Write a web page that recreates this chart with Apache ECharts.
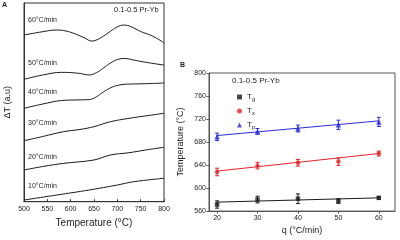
<!DOCTYPE html>
<html>
<head>
<meta charset="utf-8">
<script src="https://cdn.jsdelivr.net/npm/echarts@6/dist/echarts.min.js"></script>
<style>html,body{margin:0;padding:0;background:#fff;}#c{width:400px;height:240px;}</style>
</head>
<body>
<div id="c"></div>
<script>
// ---- Panel A: DSC curves (temperature °C, ΔT arbitrary units) ----
const rates = ['10°C/min', '20°C/min', '30°C/min', '40°C/min', '50°C/min', '60°C/min'];
const dsc10 = [[500,1.7],[570,6.7],[640,11.8],[700,16.8],[735,20.1],[800,23.6]];
const dsc20 = [[500,31.9],[540,35.4],[585,38.6],[650,42.0],[685,47.0],[725,49.3],[760,52.0],[800,54.8]];
const dsc30 = [[500,61.4],[540,65.6],[585,70.5],[620,72.7],[650,75.5],[685,80.5],[725,83.9],[760,86.3],[800,89.0]];
const dsc40 = [[500,94.0],[540,98.3],[580,101.8],[620,102.5],[640,102.8],[655,105.5],[670,110.5],[685,114.5],[700,117.0],[720,118.3],[745,118.6],[775,119.0],[800,119.5]];
const dsc50 = [[500,123.2],[540,127.5],[580,130.2],[615,129.4],[640,127.6],[655,129.8],[670,134.5],[685,139.5],[700,143.0],[715,144.2],[735,142.6],[760,140.4],[800,137.5]];
const dsc60 = [[500,167.8],[540,171.1],[570,172.8],[590,171.8],[610,168.8],[630,164.8],[645,161.7],[660,163.8],[680,169.8],[700,176.0],[715,177.8],[730,176.0],[750,171.3],[775,166.8],[800,160.0]];
const dscCurves = [dsc10, dsc20, dsc30, dsc40, dsc50, dsc60];
const sampleName = '0.1-0.5 Pr-Yb';

// ---- Panel B: characteristic temperatures vs heating rate ----
const qRates = [20, 30, 40, 50, 60];
const tg = [571.5, 580, 581.5, 577.5, 583];
const tgErr = [6.4, 5.8, 8.4, 4, 2.3];
const tx = [628, 639, 644, 646, 660];
const txErr = [6.6, 5.8, 5.8, 6.6, 4.3];
const tp = [689, 698.5, 703.5, 710, 715];
const tpErr = [6.5, 5, 6, 8, 8];
const fitQ = [20, 60];
const tgFit = [575.6, 583];
const txFit = [629.5, 660];
const tpFit = [691.3, 716.8];
const qTicks = [20, 30, 40, 50, 60];

const FONT = 'Liberation Sans, Arial, sans-serif';
const BLACK = '#1a1a1a', RED = '#e8202a', BLUE = '#2a2ad8';

const chart = echarts.init(document.getElementById('c'), null, {renderer: 'canvas'});

function errSeries(vals, errs, color) {
  return {
    type: 'custom', xAxisIndex: 1, yAxisIndex: 1, silent: true, z: 3,
    data: qRates.map((q, i) => [q, vals[i] - errs[i], vals[i] + errs[i]]),
    renderItem: function (params, api) {
      const a = api.coord([api.value(0), api.value(1)]);
      const b = api.coord([api.value(0), api.value(2)]);
      const w = 2;
      const st = {stroke: color, lineWidth: 1};
      return {type: 'group', children: [
        {type: 'line', shape: {x1: a[0], y1: a[1], x2: b[0], y2: b[1]}, style: st},
        {type: 'line', shape: {x1: a[0]-w, y1: a[1], x2: a[0]+w, y2: a[1]}, style: st},
        {type: 'line', shape: {x1: b[0]-w, y1: b[1], x2: b[0]+w, y2: b[1]}, style: st}
      ]};
    }
  };
}

const series = [];
dscCurves.forEach((d, i) => {
  series.push({type: 'line', name: rates[i], xAxisIndex: 0, yAxisIndex: 0, data: d,
    smooth: 0.4, showSymbol: false, silent: true,
    lineStyle: {color: BLACK, width: 1}});
});
[[tgFit, BLACK], [txFit, RED], [tpFit, BLUE]].forEach(([f, c]) => {
  series.push({type: 'line', xAxisIndex: 1, yAxisIndex: 1, silent: true, showSymbol: false,
    data: fitQ.map((q, i) => [q, f[i]]), lineStyle: {color: c, width: 1}});
});
series.push(errSeries(tg, tgErr, BLACK), errSeries(tx, txErr, RED), errSeries(tp, tpErr, BLUE));
series.push({type: 'scatter', name: 'Tg', xAxisIndex: 1, yAxisIndex: 1, symbol: 'rect', symbolSize: 4.5,
  itemStyle: {color: BLACK}, data: qRates.map((q, i) => [q, tg[i]]), z: 4});
series.push({type: 'scatter', name: 'Tx', xAxisIndex: 1, yAxisIndex: 1, symbol: 'circle', symbolSize: 4.5,
  itemStyle: {color: RED}, data: qRates.map((q, i) => [q, tx[i]]), z: 4});
series.push({type: 'scatter', name: 'Tp', xAxisIndex: 1, yAxisIndex: 1, symbol: 'triangle', symbolSize: 5.5,
  itemStyle: {color: BLUE}, data: qRates.map((q, i) => [q, tp[i]]), z: 4});

const labelTops = [186.7, 157.7, 124, 93, 64, 21];
const graphics = rates.map((r, i) => ({
  type: 'text', left: 28, top: labelTops[i] - 4.5,
  style: {text: r, font: '7px ' + FONT, fill: '#222'}
}));
graphics.push(
  {type: 'text', left: 114, top: 6, style: {text: sampleName, font: '7.5px ' + FONT, fill: '#222'}},
  {type: 'text', left: 232, top: 76.5, style: {text: sampleName, font: '8px ' + FONT, fill: '#222'}},
  {type: 'text', left: 2, top: 2, style: {text: 'A', font: 'bold 7px ' + FONT, fill: '#222'}},
  {type: 'text', left: 180, top: 62, style: {text: 'B', font: 'bold 7px ' + FONT, fill: '#222'}}
);

const axisTxt = {color: '#222', fontFamily: FONT, fontSize: 7};
chart.setOption({
  animation: false,
  textStyle: {fontFamily: FONT},
  grid: [
    {left: 24, right: 236, top: 3, bottom: 38.3, show: true, borderColor: '#333', borderWidth: 1},
    {left: 209, right: 5, top: 73, bottom: 28.3, show: true, borderColor: '#555', borderWidth: 1}
  ],
  xAxis: [
    {gridIndex: 0, type: 'value', min: 500, max: 800, interval: 50,
     name: 'Temperature (°C)', nameLocation: 'middle', nameGap: 17,
     nameTextStyle: {fontSize: 10, color: '#222', fontFamily: FONT},
     axisLine: {lineStyle: {color: '#333'}}, axisTick: {inside: true, length: 2.5, lineStyle: {color: '#333'}},
     axisLabel: Object.assign({margin: 4}, axisTxt), splitLine: {show: false}},
    {gridIndex: 1, type: 'value', min: 18, max: 64,
     name: 'q (°C/min)', nameLocation: 'middle', nameGap: 14,
     nameTextStyle: {fontSize: 9, color: '#222', fontFamily: FONT},
     axisLine: {lineStyle: {color: '#555'}},
     axisTick: {length: 2.5, customValues: qTicks, lineStyle: {color: '#555'}},
     axisLabel: Object.assign({margin: 3, customValues: qTicks}, axisTxt), splitLine: {show: false}}
  ],
  yAxis: [
    {gridIndex: 0, type: 'value', min: 0, max: 200,
     name: 'ΔT (a.u)', nameLocation: 'middle', nameGap: 12, nameRotate: 90,
     nameTextStyle: {fontSize: 9, color: '#222', fontFamily: FONT},
     axisLine: {lineStyle: {color: '#333'}}, axisTick: {show: false}, axisLabel: {show: false}, splitLine: {show: false}},
    {gridIndex: 1, type: 'value', min: 560, max: 800, interval: 40,
     name: 'Temperature (°C)', nameLocation: 'middle', nameGap: 24, nameRotate: 90,
     nameTextStyle: {fontSize: 9, color: '#222', fontFamily: FONT},
     axisLine: {lineStyle: {color: '#555'}}, axisTick: {length: 2.5, lineStyle: {color: '#555'}},
     axisLabel: Object.assign({margin: 3}, axisTxt), splitLine: {show: false}}
  ],
  legend: {
    orient: 'vertical', left: 232, top: 87, itemWidth: 5, itemHeight: 5, itemGap: 4,
    data: [{name: 'Tg', icon: 'rect'}, {name: 'Tx', icon: 'circle'}, {name: 'Tp', icon: 'triangle'}],
    formatter: n => '{t|T}{s|' + n.slice(1) + '}',
    textStyle: {color: '#222', fontFamily: FONT, rich: {
      t: {fontSize: 8, fontFamily: FONT, color: '#222', lineHeight: 9},
      s: {fontSize: 6, fontFamily: FONT, color: '#222', lineHeight: 9, padding: [4, 0, 0, 0]}
    }}
  },
  graphic: graphics,
  series: series
});
</script>
</body>
</html>
